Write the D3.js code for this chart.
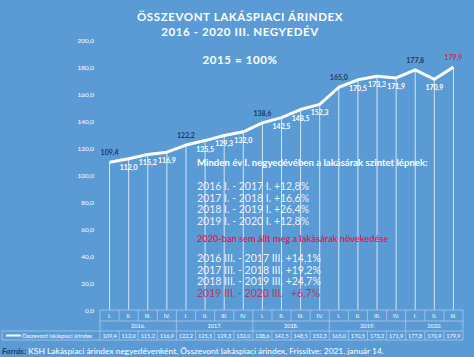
<!DOCTYPE html>
<html><head><meta charset="utf-8">
<script src="https://cdn.jsdelivr.net/npm/d3@7"></script>
<style>
html,body{margin:0;padding:0;background:#5b9bd5;}
svg{display:block;font-family:Lato,"Open Sans",sans-serif;}
</style></head><body>
<svg id="c" width="474" height="357"></svg>
<script>
const quarters = ["I.","II.","III.","IV.","I.","II.","III.","IV.","I.","II.","III.","IV.","I.","II.","III.","IV.","I.","II.","III."];
const years = ["2016.","2017.","2018.","2019.","2020."];
const yearSpans = [4,4,4,4,3];
const values = [109.4,112.0,115.2,116.9,122.2,125.5,129.3,132.0,138.6,142.5,148.5,152.3,165.0,170.5,173.2,171.9,177.8,170.9,179.9];
// label placement: 1 = above (dark), 0 = below (white), 2 = above (red)
const labelPos = [1,0,0,0,1,0,0,0,1,0,0,0,1,0,0,0,1,0,2];
const yTicks = [0,20,40,60,80,100,120,140,160,180,200];
const titleLines = ["ÖSSZEVONT LAKÁSPIACI ÁRINDEX","2016 - 2020 III. NEGYEDÉV"];
const subtitle = "2015 = 100%";
const noteHead = "Minden év I. negyedévében a lakásárak szintet lépnek:";
const noteA = ["2016 I. - 2017 I. +12,8%","2017 I. - 2018 I. +16,6%","2018 I. - 2019 I. +26,4%","2019 I. - 2020 I. +12,8%"];
const noteRed = "2020-ban sem állt meg a lakásárak növekedése";
const noteB = ["2016 III. - 2017 III. +14,1%","2017 III. - 2018 III. +19,2%","2018 III. - 2019 III. +24,7%","2019 III. - 2020 III.   +6,7%"];
const seriesName = "Összevont lakáspiaci árindex";
const sourceBold = "Forrás:";
const sourceText = " KSH Lakáspiaci árindex negyedévenként, Összevont lakáspiaci árindex, Frissítve: 2021. január 14.";

const fmt = v => d3.format(".1f")(v).replace(".", ",");
const svg = d3.select("#c");
const W = 474;
const x = d3.scaleBand().domain(d3.range(values.length)).range([100, 463]).padding(0);
const y = d3.scaleLinear().domain([0, 200]).range([310, 40]);
const cx = i => x(i) + x.bandwidth() / 2;

// titles
svg.append("g").selectAll("text").data(titleLines).join("text")
  .attr("x", 240).attr("y", (d, i) => 21 + i * 15)
  .attr("text-anchor", "middle").attr("fill", "#fff").attr("font-weight", "bold")
  .attr("font-size", 11.5).attr("letter-spacing", 0.6).text(d => d);
svg.append("text").attr("x", 240).attr("y", 64).attr("text-anchor", "middle")
  .attr("fill", "#fff").attr("font-weight", "bold").attr("font-size", 11.5).attr("letter-spacing", 0.6).text(subtitle);

// y axis labels
const yAxis = d3.axisLeft(y).tickValues(yTicks).tickFormat(fmt).tickSize(0).tickPadding(0);
const ya = svg.append("g").attr("transform", "translate(94,0)").call(yAxis);
ya.select(".domain").remove();
ya.selectAll("text").attr("fill", "#fff").attr("font-size", 6.5).attr("font-family", "Lato,'Open Sans',sans-serif");

// drop lines
svg.append("g").selectAll("line").data(values).join("line")
  .attr("x1", (d, i) => cx(i)).attr("x2", (d, i) => cx(i))
  .attr("y1", d => y(d)).attr("y2", y(0))
  .attr("stroke", "#fff").attr("stroke-opacity", 0.75).attr("stroke-width", 1);

// notes
const notes = svg.append("g").attr("font-size", 10.5);
notes.append("text").attr("x", 197).attr("y", 166).attr("fill", "#fff").attr("font-weight", "bold").attr("font-size", 9.6).text(noteHead);
notes.selectAll(".na").data(noteA).join("text").attr("class", "na")
  .attr("x", 197).attr("y", (d, i) => 190 + i * 11.6).attr("fill", "#fff").attr("fill-opacity", 0.9).text(d => d);
notes.append("text").attr("x", 197).attr("y", 242).attr("fill", "#e8174f").attr("font-weight", "bold").attr("font-size", 9.2).text(noteRed);
notes.selectAll(".nb").data(noteB).join("text").attr("class", "nb")
  .attr("x", 197).attr("y", (d, i) => 262 + i * 11.6)
  .attr("fill", (d, i) => i === 3 ? "#c8284f" : "#fff").attr("fill-opacity", 0.92).attr("xml:space", "preserve").style("white-space", "pre").text(d => d);

// line
svg.append("path").datum(values)
  .attr("d", d3.line().x((d, i) => cx(i)).y(d => y(d)))
  .attr("fill", "none").attr("stroke", "#fff").attr("stroke-width", 3).attr("stroke-linejoin", "round");

// data labels
svg.append("g").selectAll("text").data(values).join("text")
  .attr("x", (d, i) => cx(i))
  .attr("y", (d, i) => labelPos[i] ? y(d) - 7 : y(d) + 11)
  .attr("text-anchor", "middle").attr("font-size", 7).attr("font-weight", "bold")
  .attr("fill", (d, i) => labelPos[i] === 1 ? "#1f3864" : labelPos[i] === 2 ? "#e8174f" : "#fff")
  .text(fmt);

// data table
const tb = svg.append("g").attr("stroke", "#a9c9ea").attr("stroke-width", 0.8);
const r0 = 310, r1 = 321, r2 = 331, r3 = 340;
// quarter row
tb.append("line").attr("x1", 100).attr("x2", 463).attr("y1", r0).attr("y2", r0);
tb.append("line").attr("x1", 100).attr("x2", 463).attr("y1", r1).attr("y2", r1);
tb.append("line").attr("x1", 2).attr("x2", 463).attr("y1", r2).attr("y2", r2);
tb.append("line").attr("x1", 2).attr("x2", 463).attr("y1", r3).attr("y2", r3);
tb.append("line").attr("x1", 2).attr("x2", 2).attr("y1", r2).attr("y2", r3);
// vertical lines: every column in quarter and value rows
d3.range(values.length + 1).forEach(i => {
  const xx = i < values.length ? x(i) : x(values.length - 1) + x.bandwidth();
  tb.append("line").attr("x1", xx).attr("x2", xx).attr("y1", r0).attr("y2", r1);
  tb.append("line").attr("x1", xx).attr("x2", xx).attr("y1", r2).attr("y2", r3);
});
// year separators
let acc = 0;
const yearStart = yearSpans.map(s => { const st = acc; acc += s; return st; });
yearStart.concat([values.length]).forEach(st => {
  const xx = st < values.length ? x(st) : x(values.length - 1) + x.bandwidth();
  tb.append("line").attr("x1", xx).attr("x2", xx).attr("y1", r1).attr("y2", r2);
});
const tt = svg.append("g").attr("fill", "#fff").attr("font-size", 5.6).attr("text-anchor", "middle");
tt.selectAll(".q").data(quarters).join("text").attr("class", "q")
  .attr("x", (d, i) => cx(i)).attr("y", (r0 + r1) / 2 + 2).text(d => d);
tt.selectAll(".yr").data(years).join("text").attr("class", "yr")
  .attr("x", (d, i) => (x(yearStart[i]) + x(yearStart[i] + yearSpans[i] - 1) + x.bandwidth()) / 2)
  .attr("y", (r1 + r2) / 2 + 2).text(d => d);
tt.selectAll(".v").data(values).join("text").attr("class", "v")
  .attr("x", (d, i) => cx(i)).attr("y", (r2 + r3) / 2 + 2).text(fmt);
// legend in table
svg.append("line").attr("x1", 6).attr("x2", 21).attr("y1", (r2 + r3) / 2).attr("y2", (r2 + r3) / 2)
  .attr("stroke", "#fff").attr("stroke-width", 2);
svg.append("text").attr("x", 22).attr("y", (r2 + r3) / 2 + 2).attr("fill", "#fff").attr("font-size", 5.6).text(seriesName);

// source
const src = svg.append("text").attr("x", 2).attr("y", 354).attr("font-size", 8.4).attr("fill", "#fff");
src.append("tspan").attr("font-weight", "bold").attr("font-style", "italic").attr("fill", "#1f3864").text(sourceBold);
src.append("tspan").text(sourceText);
</script>
</body></html>
